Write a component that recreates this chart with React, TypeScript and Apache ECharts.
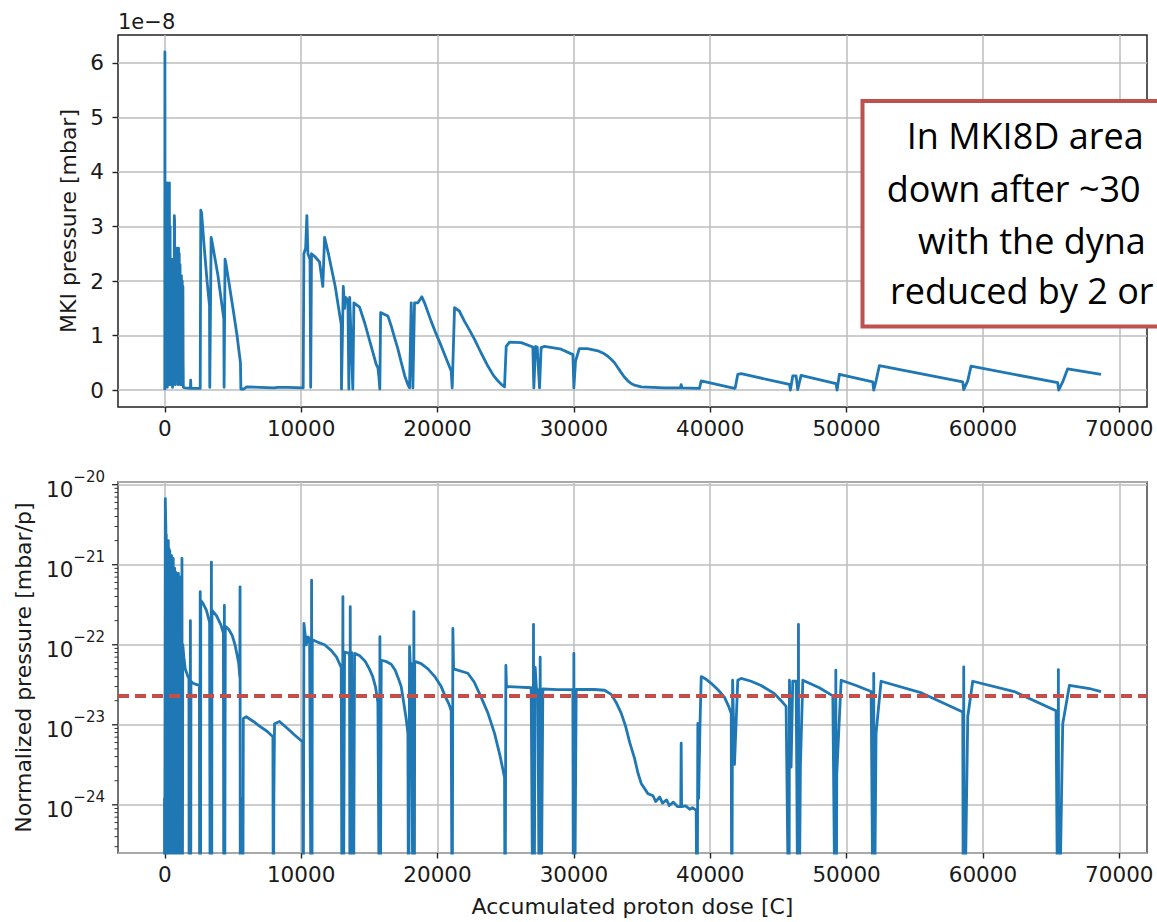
import React, { useEffect, useRef } from "react";
import * as echarts from "echarts";

// ---------- data ----------
const xTicks = [0, 10000, 20000, 30000, 40000, 50000, 60000, 70000];
const yTicksTop = [0, 1, 2, 3, 4, 5, 6];
const xMin = -3430;
const xMax = 72030;
const yTopMin = -0.31;
const yTopMax = 6.51;
const yNormMin = 2.5e-25;
const yNormMax = 1.08e-20;
const thresholdNorm = 2.29e-23;
// the log axis is fed in units of 1e-23 mbar/p (ECharts rounds tiny numbers to 0)
const NORM_UNIT = 1e-23;

// MKI pressure, in units of 1e-8 mbar, vs accumulated dose [C]
const mkiPressure: [number, number][] = [
  [0, 0.0], [10, 6.2], [25, 0.1], [45, 3.3], [60, 3.0], [75, 0.2], [100, 2.5], [120, 0.3], [160, 3.8],
  [175, 1.0], [190, 0.05], [210, 2.8], [230, 3.75], [245, 0.6], [260, 3.5], [280, 1.5], [300, 0.1],
  [320, 2.4], [340, 3.8], [350, 0.3], [365, 2.2], [380, 0.6], [390, 3.0], [405, 1.2], [420, 0.1],
  [440, 2.0], [455, 0.4], [470, 2.4], [485, 0.8], [500, 1.0], [520, 2.2], [540, 2.3], [555, 0.5],
  [570, 0.05], [590, 1.8], [605, 0.3], [620, 2.4], [635, 1.4], [650, 0.6], [670, 2.0], [685, 0.2],
  [700, 3.2], [720, 3.1], [740, 3.1], [755, 0.8], [770, 0.1], [785, 2.0], [800, 2.2], [815, 0.6],
  [830, 0.3], [850, 2.4], [870, 0.5], [900, 2.6], [925, 1.2], [950, 2.5], [965, 0.6], [980, 0.1],
  [995, 2.2], [1010, 2.6], [1035, 0.7], [1060, 2.5], [1075, 1.0], [1090, 0.2], [1105, 1.9], [1120, 2.3],
  [1135, 0.8], [1150, 0.1], [1170, 1.7], [1190, 0.4], [1220, 2.1], [1240, 0.9], [1260, 1.8], [1280, 2.0],
  [1300, 0.1], [1315, 1.5], [1330, 1.9], [1345, 0.6], [1360, 0.05], [1500, 0.04],
  [1880, 0.03], [1900, 0.18], [1920, 0.03], [2600, 0.03], [2640, 3.3], [2700, 3.25], [2900, 2.6],
  [3100, 2.0], [3280, 1.55], [3300, 0.05], [3350, 0.05], [3400, 2.8], [3480, 2.7], [3900, 2.1],
  [4330, 1.3], [4350, 0.05], [4420, 2.4], [4500, 2.3], [5000, 1.5], [5300, 1.0], [5550, 0.5],
  [5580, 0.02], [5800, 0.02], [6000, 0.06], [7000, 0.05], [8000, 0.04], [8300, 0.05], [9000, 0.05],
  [10150, 0.04], [10200, 2.5], [10330, 2.6], [10420, 3.2], [10500, 2.5], [10650, 2.4], [10700, 0.05],
  [10760, 2.5], [11000, 2.45], [11350, 2.35], [11590, 1.9], [11720, 2.8], [12000, 2.5], [12500, 1.9],
  [12940, 1.2], [12960, 0.02], [13090, 1.9], [13190, 1.5], [13260, 1.7], [13430, 1.65], [13500, 0.02],
  [13560, 1.7], [13790, 0.02], [13870, 1.6], [14283, 1.52], [14650, 1.24], [15139, 0.8], [15506, 0.47],
  [15628, 0.41], [15700, 0.25], [15770, 0.02], [15830, 1.42], [16361, 1.36], [16600, 1.18],
  [16850, 0.96], [17100, 0.75], [17350, 0.5], [17600, 0.26], [17827, 0.1], [17950, 0.04], [18072, 1.6],
  [18194, 0.04], [18316, 1.6], [18560, 1.6], [18854, 1.71], [19050, 1.6], [19538, 1.26], [19900, 1.03],
  [20271, 0.81], [20760, 0.5], [21004, 0.35], [21078, 0.04], [21249, 1.51], [21600, 1.45],
  [21982, 1.26], [22350, 1.1], [22715, 0.93], [23200, 0.68], [23693, 0.44], [24100, 0.27],
  [24426, 0.17], [24700, 0.1], [24915, 0.06], [25038, 0.8], [25282, 0.88], [26140, 0.87], [26993, 0.79],
  [27066, 0.04], [27190, 0.8], [27311, 0.79], [27482, 0.04], [27600, 0.78], [27850, 0.8],
  [29070, 0.75], [29930, 0.65], [30000, 0.04], [30122, 0.53], [30400, 0.76], [31000, 0.76],
  [31759, 0.72], [32200, 0.67], [32490, 0.62], [32750, 0.56], [32981, 0.5], [33230, 0.41],
  [33470, 0.32], [33700, 0.24], [33958, 0.17], [34200, 0.12], [34447, 0.09], [34936, 0.06],
  [36640, 0.04], [37820, 0.04], [37868, 0.1], [37920, 0.04], [39213, 0.03],
  [39335, 0.17], [41779, 0.03], [41830, 0.04], [42023, 0.29], [42263, 0.3], [45807, 0.105],
  [45880, 0.0], [46051, 0.26], [46296, 0.26], [46418, 0.01], [46662, 0.27], [49228, 0.12],
  [49302, 0.0], [49473, 0.29], [51917, 0.15], [51990, 0.0], [52161, 0.17], [52406, 0.45],
  [58515, 0.15], [58588, 0.01], [58882, 0.17], [59126, 0.44], [65480, 0.135], [65553, 0.0],
  [65846, 0.15], [66213, 0.39], [68657, 0.29],
];

// Normalized pressure [mbar/p] vs accumulated dose [C]; 1e-26 = drop below the axis
const normPressure: [number, number][] = [
  [-20, 1e-26], [-20, 1.2e-24], [-10, 1e-26], [30, 1e-26], [40, 6.7e-21], [60, 4.0e-21], [80, 3.0e-21],
  [95, 1e-26], [110, 2.4e-21], [125, 1e-26], [150, 2.0e-21], [175, 1e-26], [200, 1.9e-21], [215, 1e-26],
  [230, 1.7e-21], [245, 1e-26], [260, 2.0e-21], [280, 1e-26], [300, 1.6e-21], [315, 1e-26],
  [330, 1.4e-21], [350, 1e-26], [370, 1.5e-21], [395, 1e-26], [420, 1.3e-21], [435, 1e-26],
  [450, 1.1e-21], [470, 1e-26], [500, 1.3e-21], [520, 1e-26], [540, 1.0e-21], [555, 1e-26],
  [570, 9e-22], [590, 1e-26], [620, 1.2e-21], [640, 1e-26], [660, 8e-22], [675, 1e-26], [690, 9e-22],
  [705, 1e-26], [730, 9e-22], [755, 1e-26], [780, 8e-22], [795, 1e-26], [810, 8e-22], [830, 1e-26],
  [860, 7.8e-22], [890, 1e-26], [920, 7.5e-22], [935, 1e-26], [950, 7e-22], [970, 1e-26],
  [1000, 7.8e-22], [1030, 1e-26], [1060, 7e-22], [1075, 1e-26], [1090, 6.5e-22], [1115, 1e-26],
  [1150, 7e-22], [1175, 1e-26], [1200, 6e-22], [1230, 1e-26], [1260, 1.2e-21], [1290, 1e-26],
  [1320, 1.0e-22], [1400, 7e-23], [1500, 5e-23], [1700, 4e-23], [1770, 3.8e-23], [1790, 1e-26],
  [1850, 1e-26], [1880, 2.0e-22], [1900, 1e-26], [1920, 3.5e-23], [2070, 3.3e-23], [2300, 3.2e-23],
  [2540, 3.1e-23], [2560, 1e-26], [2600, 4.6e-22], [2620, 1e-26], [2640, 3.6e-22], [2800, 3.3e-22],
  [3050, 2.7e-22], [3287, 1.9e-22], [3330, 1e-26], [3380, 1e-26], [3420, 1.08e-21], [3440, 1e-26],
  [3460, 2.7e-22], [3800, 2.3e-22], [4100, 1.8e-22], [4300, 1.4e-22], [4330, 1e-26], [4370, 3.1e-22],
  [4390, 1e-26], [4440, 1.7e-22], [4700, 1.55e-22], [4950, 1.3e-22], [5150, 1.0e-22], [5300, 7.5e-23],
  [5420, 5.9e-23], [5500, 4e-23], [5520, 5.3e-22], [5540, 1e-26], [5600, 1.2e-24],
  [5650, 1e-26], [5720, 1e-26], [5760, 1.2e-23], [5975, 1.26e-23], [6500, 1.1e-23], [7000, 9.5e-24],
  [7500, 8.3e-24], [7930, 7.1e-24], [7960, 1e-26], [8000, 1.2e-24], [8050, 1.03e-23], [8413, 1.1e-23],
  [9000, 9e-24], [9500, 7.5e-24], [10120, 6.1e-24], [10150, 1e-26], [10204, 1.85e-22], [10375, 1.0e-22],
  [10500, 1.25e-22], [10619, 1.2e-22], [10740, 1e-26], [10766, 6.4e-22], [10790, 1e-26],
  [10820, 1.15e-22], [11200, 1.08e-22], [11719, 1.0e-22], [12200, 8.5e-23], [12600, 7e-23],
  [12941, 5.2e-23], [13000, 1e-26], [13063, 4e-22], [13090, 1e-26], [13185, 8.1e-23], [13550, 7.8e-23],
  [13580, 1e-26], [13601, 3e-22], [13640, 1e-26], [13700, 8e-23], [13750, 1e-26], [13830, 1e-26],
  [13918, 7.8e-23], [14300, 7.3e-23], [14700, 6.2e-23], [15000, 5e-23], [15250, 4e-23], [15450, 3e-23],
  [15629, 1.9e-23], [15750, 1e-26], [15776, 1.26e-22], [15800, 1e-26], [15874, 6.4e-23],
  [16200, 6.2e-23], [16606, 5.7e-23], [16900, 4.8e-23], [17150, 3.7e-23], [17339, 3e-23],
  [17500, 2e-23], [17700, 1.2e-23], [17828, 7.8e-24], [17880, 1e-26], [17930, 1e-26],
  [17950, 9.5e-23], [18000, 6e-23], [18072, 5.8e-23], [18220, 1e-26], [18268, 2.6e-22], [18300, 1e-26],
  [18330, 6.2e-23], [18800, 5.8e-23], [19300, 5e-23], [19800, 4e-23], [20272, 3e-23], [20600, 2.2e-23],
  [20850, 1.8e-23], [21005, 1.5e-23], [21079, 1e-26], [21127, 1.6e-22], [21180, 5e-23],
  [22228, 4.4e-23], [22700, 3.4e-23], [23205, 2.2e-23], [23700, 1.4e-23], [24183, 7.8e-24],
  [24600, 4e-24], [24916, 2.2e-24], [24960, 1e-26], [25013, 5.5e-23], [25060, 3e-23], [26000, 2.95e-23],
  [26870, 2.9e-23], [27000, 1e-26], [27040, 1.8e-22], [27080, 1e-26], [27165, 5.2e-23],
  [27250, 2.9e-23], [27360, 2.7e-23], [27480, 1e-26], [27530, 7e-23], [27580, 1e-26], [27726, 2.8e-23],
  [28800, 2.75e-23], [29926, 2.75e-23], [29970, 1e-26], [30000, 7.8e-23], [30040, 1e-26],
  [30170, 2.76e-23], [31500, 2.76e-23], [32250, 2.7e-23], [32740, 2.4e-23], [33100, 1.9e-23],
  [33470, 1.4e-23], [33800, 9.5e-24], [34100, 6e-24], [34450, 3.8e-24], [34700, 2.5e-24],
  [34940, 1.85e-24], [35430, 1.38e-24], [35800, 1.3e-24], [36000, 1.1e-24], [36300, 1.25e-24],
  [36500, 1.05e-24], [36800, 1.15e-24], [37000, 9.8e-25], [37300, 1.08e-24], [37600, 9.5e-25],
  [37840, 9.5e-25], [37870, 5.9e-24], [37900, 9.5e-25], [38200, 9.7e-25], [38500, 8.8e-25],
  [38700, 9.2e-25], [38970, 8.5e-25], [39040, 1e-26], [39090, 1.04e-23], [39150, 1.2e-24],
  [39250, 1.0e-23], [39340, 4e-23], [39700, 3.7e-23], [40070, 3.3e-23], [40600, 2.7e-23],
  [41050, 2.2e-23], [41350, 1.7e-23], [41540, 1.38e-23], [41580, 1e-26],
  [41640, 3.6e-23], [41780, 3.2e-24], [42020, 3.6e-23], [42270, 3.8e-23], [43000, 3.5e-23],
  [43730, 3.1e-23], [44710, 2.45e-23], [45200, 2e-23], [45565, 1.7e-23], [45780, 1e-26],
  [45810, 3.6e-23], [45930, 2.95e-24], [46050, 3.5e-23], [46300, 3.5e-23], [46440, 1e-26],
  [46470, 1.8e-22], [46500, 1e-26], [46615, 3.2e-24], [46790, 3.6e-23], [48000, 2.9e-23],
  [48990, 2.3e-23], [49180, 1e-26], [49210, 4.8e-23], [49240, 1e-26], [49280, 2.4e-24],
  [49600, 3.6e-23], [50700, 3.1e-23], [51800, 2.6e-23], [51960, 1e-26], [51990, 4.4e-23],
  [52020, 1e-26], [52160, 7.8e-24], [52530, 3.5e-23], [55500, 2.5e-23], [58520, 1.44e-23],
  [58560, 1e-26], [58590, 5.3e-23], [58620, 1e-26], [58885, 1.26e-23], [59250, 3.5e-23],
  [62300, 2.6e-23], [65360, 1.5e-23], [65500, 1e-26], [65530, 4.9e-23], [65560, 1e-26],
  [65850, 1.03e-23], [66340, 3.1e-23], [67930, 2.8e-23], [68660, 2.6e-23],
];

const annotationLines = ["In MKI8D area", "down after ~30", "with the dyna", "reduced by 2 or"];

// ---------- styling ----------
const FONT = "DejaVu Sans";
const TXT = "#1a1a1a";
const GRID_LINE = "#bdbdbd";
const BLUE = "#1f77b4";
const RED = "#c44e4a";
const G_LEFT = 118;
const G_WIDTH = 1029;
const TOP1 = 35;
const H1 = 372;
const TOP2 = 482;
const H2 = 371;

const toUnit = (v: number) => v / NORM_UNIT;

function xAxisCfg(gridIndex: number, name?: string) {
  return {
    gridIndex,
    type: "value",
    min: xMin,
    max: xMax,
    minInterval: 10000,
    maxInterval: 10000,
    name: name || "",
    nameLocation: "middle",
    nameGap: 42,
    nameTextStyle: { fontFamily: FONT, fontSize: 22, color: TXT },
    axisLine: { show: false, onZero: false },
    axisTick: {
      show: true,
      length: 5.5,
      customValues: xTicks,
      lineStyle: { color: "#222", width: 1.4 },
    },
    axisLabel: {
      customValues: xTicks,
      fontFamily: FONT,
      fontSize: 21.5,
      color: TXT,
      margin: 10,
      formatter: (v: number) => (Math.abs(v % 10000) < 1e-6 ? String(v) : ""),
    },
    splitLine: { show: true, lineStyle: { color: GRID_LINE, width: 1.5 } },
  };
}

export default function App() {
  const ref = useRef<HTMLDivElement>(null);

  useEffect(() => {
    if (!ref.current) return;
    const chart = echarts.init(ref.current, null, { renderer: "svg", width: 1157, height: 922 });

    const option: any = {
      animation: false,
      backgroundColor: "#ffffff",
      grid: [
        { left: G_LEFT, top: TOP1, width: G_WIDTH, height: H1, show: true, borderColor: "#222", borderWidth: 1.5, backgroundColor: "rgba(0,0,0,0)" },
        { left: G_LEFT, top: TOP2, width: G_WIDTH, height: H2, show: true, borderColor: "#444", borderWidth: 1.5, backgroundColor: "rgba(0,0,0,0)" },
      ],
      xAxis: [xAxisCfg(0), xAxisCfg(1, "Accumulated proton dose [C]")],
      yAxis: [
        {
          gridIndex: 0,
          type: "value",
          min: yTopMin,
          max: yTopMax,
          minInterval: 1,
          maxInterval: 1,
          name: "MKI pressure [mbar]",
          nameLocation: "middle",
          nameRotate: 90,
          nameGap: 38,
          nameTextStyle: { fontFamily: FONT, fontSize: 22, color: TXT },
          axisLine: { show: false, onZero: false },
          axisTick: { show: true, length: 5.5, customValues: yTicksTop, lineStyle: { color: "#222", width: 1.4 } },
          axisLabel: {
            customValues: yTicksTop,
            fontFamily: FONT,
            fontSize: 21.5,
            color: TXT,
            margin: 14,
            formatter: (v: number) => (Math.abs(v - Math.round(v)) < 1e-6 ? String(Math.round(v)) : ""),
          },
          splitLine: { show: true, lineStyle: { color: GRID_LINE, width: 1.5 } },
        },
        {
          gridIndex: 1,
          type: "log",
          logBase: 10,
          min: toUnit(yNormMin),
          max: toUnit(yNormMax),
          name: "Normalized pressure [mbar/p]",
          nameLocation: "middle",
          nameRotate: 90,
          nameGap: 84,
          nameTextStyle: { fontFamily: FONT, fontSize: 22, color: TXT },
          axisLine: { show: false, onZero: false },
          axisTick: { show: false },
          axisLabel: {
            margin: 13,
            padding: [10, 0, 0, 0],
            formatter: (v: number) => {
              const e = Math.log10(v * NORM_UNIT);
              const r = Math.round(e);
              if (Math.abs(e - r) > 1e-4) return "";
              return "{b|10}{e|" + (r < 0 ? "−" : "") + Math.abs(r) + "}";
            },
            rich: {
              b: { fontFamily: FONT, fontSize: 21.5, color: TXT, lineHeight: 40 },
              e: { fontFamily: FONT, fontSize: 15, color: TXT, lineHeight: 14, verticalAlign: "top" },
            },
          },
          splitLine: { show: true, lineStyle: { color: GRID_LINE, width: 1.5 } },
        },
      ],
      series: [
        {
          type: "line",
          xAxisIndex: 0,
          yAxisIndex: 0,
          data: mkiPressure,
          showSymbol: false,
          symbol: "none",
          clip: true,
          lineStyle: { color: BLUE, width: 2.8, join: "round" },
          emphasis: { disabled: true },
        },
        {
          type: "line",
          xAxisIndex: 1,
          yAxisIndex: 1,
          data: normPressure.map(([x, v]) => [x, toUnit(v)]),
          showSymbol: false,
          symbol: "none",
          clip: true,
          lineStyle: { color: BLUE, width: 2.8, join: "round" },
          emphasis: { disabled: true },
          markLine: {
            silent: true,
            symbol: ["none", "none"],
            label: { show: false },
            lineStyle: { color: RED, width: 4, type: [11, 6] },
            data: [{ yAxis: toUnit(thresholdNorm) }],
          },
        },
      ],
    };
    chart.setOption(option);

    // log-axis major / minor ticks placed through the axis scale
    const tickEls: any[] = [];
    for (let e = -25; e <= -20; e++) {
      for (let m = 1; m <= 9; m++) {
        const v = m * Math.pow(10, e);
        if (v < yNormMin * 0.999 || v > yNormMax) continue;
        const y = chart.convertToPixel({ yAxisIndex: 1 }, toUnit(v)) as number;
        if (!isFinite(y)) continue;
        const major = m === 1;
        tickEls.push({
          type: "line",
          silent: true,
          shape: { x1: G_LEFT - (major ? 6 : 3.5), y1: y, x2: G_LEFT, y2: y },
          style: { stroke: "#333", lineWidth: major ? 1.4 : 1 },
        });
      }
    }

    const lineStarts = [
      { x: 906.7, y: 135.5 },
      { x: 886.7, y: 188.2 },
      { x: 918, y: 240 },
      { x: 890, y: 290.5 },
    ];

    chart.setOption({
      graphic: [
        ...tickEls,
        {
          type: "text",
          left: G_LEFT,
          top: 11,
          silent: true,
          style: { text: "1e−8", fontFamily: FONT, fontSize: 21, fill: TXT },
        },
        {
          type: "rect",
          silent: true,
          shape: { x: 862.5, y: 101, width: 300, height: 225.5 },
          style: { fill: "#ffffff", stroke: "#c0504d", lineWidth: 4 },
          z: 100,
        },
        ...annotationLines.map((t, i) => ({
          type: "text",
          silent: true,
          x: lineStarts[i].x,
          y: lineStarts[i].y,
          z: 101,
          style: {
            text: t,
            fontFamily: "Open Sans",
            fontSize: 36,
            fill: "#000000",
            textAlign: "left",
            textVerticalAlign: "middle",
          },
        })),
      ],
    });

    return () => chart.dispose();
  }, []);

  return (
    <div
      ref={ref}
      style={{ position: "absolute", left: 0, top: 0, width: 1157, height: 922, background: "#ffffff" }}
    />
  );
}
